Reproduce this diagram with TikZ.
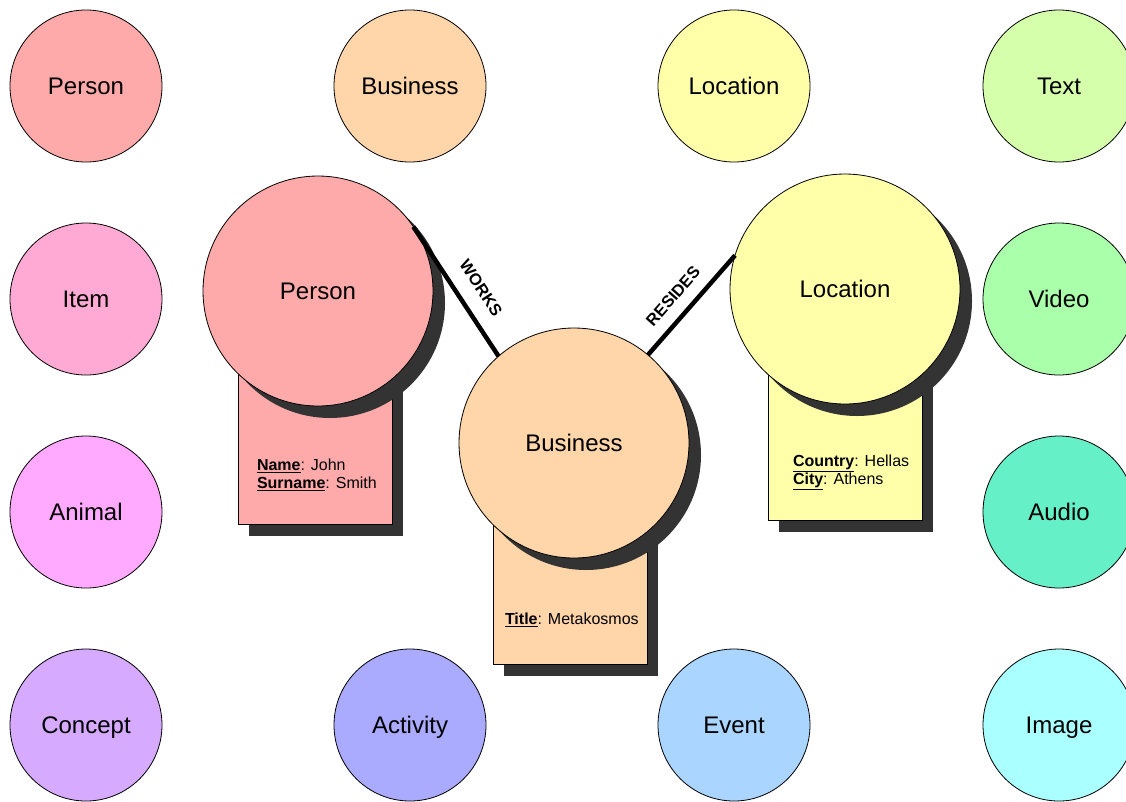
\documentclass[tikz,border=0pt]{standalone}
\usepackage{fontspec}
\setmainfont{Liberation Sans}
\definecolor{personred}{HTML}{FFAAAA}
\definecolor{businesspeach}{HTML}{FFD5AA}
\definecolor{locationyellow}{HTML}{FFFFAA}
\definecolor{textlime}{HTML}{D5FFAA}
\definecolor{itempink}{HTML}{FFAAD5}
\definecolor{videogreen}{HTML}{AAFFAA}
\definecolor{animalmagenta}{HTML}{FFAAFF}
\definecolor{audioteal}{HTML}{66F0C8}
\definecolor{conceptviolet}{HTML}{D5AAFF}
\definecolor{activityblue}{HTML}{AAAAFF}
\definecolor{eventblue}{HTML}{AAD5FF}
\definecolor{imagecyan}{HTML}{AAFFFF}
\definecolor{shadowgray}{HTML}{333333}
\begin{document}
\begin{tikzpicture}[x=1pt,y=-1pt,inner sep=0pt,outer sep=0pt,
entity/.style={draw,circle,line width=0.8pt,minimum size=152pt,text height=17pt,text depth=0pt,font=\fontsize{24}{28}\selectfont},
bigentity/.style={entity,minimum size=230pt},
shadowdisc/.style={circle,fill=shadowgray,minimum size=230pt},
card/.style={draw,rectangle,line width=0.8pt,minimum width=154pt,minimum height=224pt},
shadowcard/.style={rectangle,fill=shadowgray,minimum width=154pt,minimum height=224pt},
attrs/.style={align=left,anchor=north west,font=\fontsize{16}{18}\selectfont},
relation/.style={line width=4.5pt},
rellabel/.style={font=\bfseries\fontsize{16.5}{18}\selectfont,sloped,above}]

\clip (0,0) rectangle (1126,801);
\fill[white] (0,0) rectangle (1126,801);

% palette of entity types
\draw (86,86) node[entity,fill=personred] (tperson) {Person};
\draw (410,86) node[entity,fill=businesspeach] (tbusiness) {Business};
\draw (734,86) node[entity,fill=locationyellow] (tlocation) {Location};
\draw (1059,86) node[entity,fill=textlime] (ttext) {Text};
\draw (86,299) node[entity,fill=itempink] (titem) {Item};
\draw (1059,299) node[entity,fill=videogreen] (tvideo) {Video};
\draw (86,512) node[entity,fill=animalmagenta] (tanimal) {Animal};
\draw (1059,512) node[entity,fill=audioteal] (taudio) {Audio};
\draw (86,725) node[entity,fill=conceptviolet] (tconcept) {Concept};
\draw (410,725) node[entity,fill=activityblue] (tactivity) {Activity};
\draw (734,725) node[entity,fill=eventblue] (tevent) {Event};
\draw (1059,725) node[entity,fill=imagecyan] (timage) {Image};

% person
\draw (326,424) node[shadowcard] (pcardshadow) {};
\draw (315,412) node[card,fill=personred] (pcard) {};
\draw (330,303) node[shadowdisc] (pshadow) {};
\draw (318,291) node[bigentity,fill=personred] (person) {Person};
\draw (257,459) node[attrs] (pattrs) {\underline{\textbf{Name}}: John\\ \underline{\textbf{Surname}}: Smith};

% business
\draw (581,564) node[shadowcard] (bcardshadow) {};
\draw (570,552) node[card,fill=businesspeach] (bcard) {};
\draw (586,455) node[shadowdisc] (bshadow) {};
\draw (574,443) node[bigentity,fill=businesspeach] (business) {Business};
\draw (505,613) node[attrs] (battrs) {\underline{\textbf{Title}}: Metakosmos};

% location
\draw (856,420) node[shadowcard] (lcardshadow) {};
\draw (845,408) node[card,fill=locationyellow] (lcard) {};
\draw (857,301) node[shadowdisc] (lshadow) {};
\draw (845,289) node[bigentity,fill=locationyellow] (location) {Location};
\draw (793,455) node[attrs] (lattrs) {\underline{\textbf{Country}}: Hellas\\ \underline{\textbf{City}}: Athens};

% relations
\draw[relation] (person.34) -- node[rellabel,pos=.57,above=17pt] {WORKS} (business.131);
\draw[relation] (business.50) -- node[rellabel,pos=.46,above=14pt] {RESIDES} (location.163);

\end{tikzpicture}
\end{document}
